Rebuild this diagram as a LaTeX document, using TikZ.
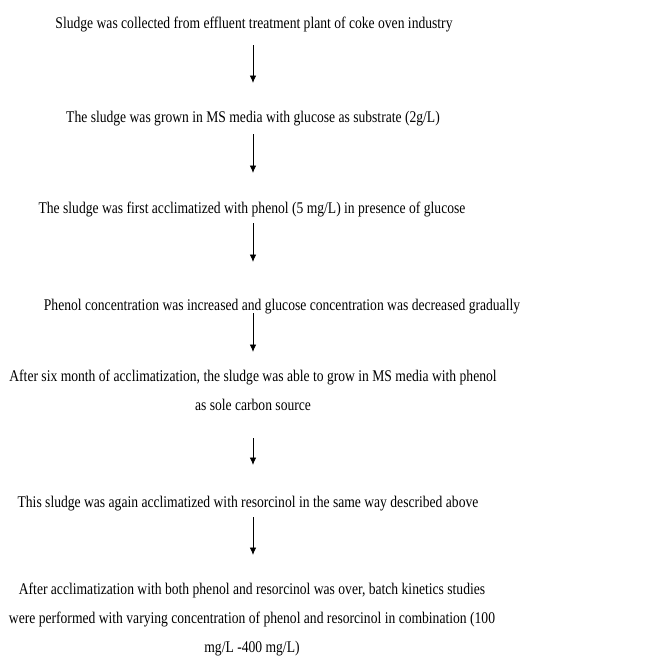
\documentclass[tikz,border=0pt]{standalone}
\usepackage{graphicx}
\usepackage{fontspec}
\setmainfont{Liberation Serif}
\usetikzlibrary{arrows.meta}
\newcommand\steptext[1]{\scalebox{1}[1.2]{\begin{tabular}{@{}c@{}}#1\end{tabular}}}
\begin{document}
\begin{tikzpicture}[x=1pt,y=-1pt,
  stepnode/.style={inner sep=0pt, font=\fontsize{13.6}{24.2}\selectfont},
  flow/.style={-{Latex[length=7.5pt,width=6.5pt]}, line width=0.9pt}]
\useasboundingbox (0,0) rectangle (653,657);
\node[stepnode] (t1) at (254,23) {\steptext{Sludge was collected from effluent treatment plant of coke oven industry}};
\node[stepnode] (t2) at (253,117) {\steptext{The sludge was grown in MS media with glucose as substrate (2g/L)}};
\node[stepnode] (t3) at (252,208) {\steptext{The sludge was first acclimatized with phenol (5 mg/L) in presence of glucose}};
\node[stepnode] (t4) at (282,305) {\steptext{Phenol concentration was increased and glucose concentration was decreased gradually}};
\node[stepnode] (t5) at (253,390) {\steptext{After six month of acclimatization, the sludge was able to grow in MS media with phenol\\as sole carbon source}};
\node[stepnode] (t6) at (248,502) {\steptext{This sludge was again acclimatized with resorcinol in the same way described above}};
\node[stepnode] (t7) at (252,618) {\steptext{After acclimatization with both phenol and resorcinol was over, batch kinetics studies\\were performed with varying concentration of phenol and resorcinol in combination (100\\mg/L -400 mg/L)}};
\coordinate (a1s) at (253,45);  \coordinate (a1e) at (253,83);
\coordinate (a2s) at (253,134); \coordinate (a2e) at (253,173);
\coordinate (a3s) at (253,223); \coordinate (a3e) at (253,262);
\coordinate (a4s) at (253,313); \coordinate (a4e) at (253,352);
\coordinate (a5s) at (253,438); \coordinate (a5e) at (253,465);
\coordinate (a6s) at (253,517); \coordinate (a6e) at (253,555);
\draw[flow] (a1s) -- (a1e);
\draw[flow] (a2s) -- (a2e);
\draw[flow] (a3s) -- (a3e);
\draw[flow] (a4s) -- (a4e);
\draw[flow] (a5s) -- (a5e);
\draw[flow] (a6s) -- (a6e);
\end{tikzpicture}
\end{document}
